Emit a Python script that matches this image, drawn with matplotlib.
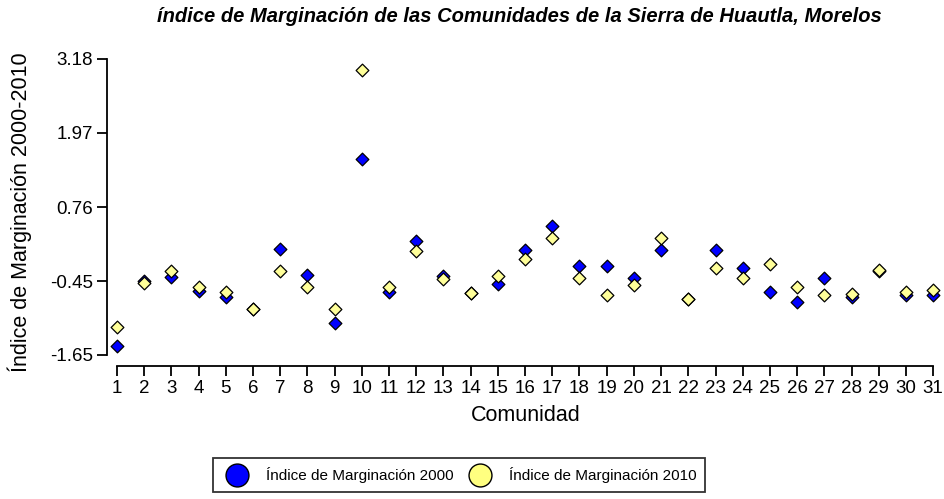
import numpy as np
import matplotlib
matplotlib.use("Agg")
import matplotlib.pyplot as plt
from matplotlib.lines import Line2D

plt.rcParams['font.family'] = ['Liberation Sans', 'DejaVu Sans']

comunidad = list(range(1, 32))
im_2000 = [-1.50, -0.45, -0.38, -0.60, -0.71, -0.90, 0.08, -0.34, -1.13, 1.55,
           -0.62, 0.20, -0.36, -0.64, -0.49, 0.06, 0.45, -0.20, -0.20, -0.39,
           0.06, -0.73, 0.06, -0.23, -0.62, -0.79, -0.39, -0.70, -0.28, -0.68,
           -0.68]
im_2010 = [-1.19, -0.47, -0.28, -0.54, -0.62, -0.90, -0.28, -0.54, -0.90, 2.99,
           -0.54, 0.05, -0.42, -0.64, -0.37, -0.09, 0.25, -0.40, -0.68, -0.51,
           0.25, -0.73, -0.23, -0.40, -0.16, -0.54, -0.68, -0.65, -0.26, -0.62,
           -0.59]
yticks = [-1.65, -0.45, 0.76, 1.97, 3.18]

fig = plt.figure(figsize=(9.45, 4.99), dpi=100)
ax = fig.add_axes([107/945, 1 - 366/499, (944 - 107)/945, (366 - 58)/499])

ax.scatter(comunidad, im_2000, marker='D', s=42, c='#0000FF', edgecolors='black',
           linewidths=0.9, zorder=3)
ax.scatter(comunidad, im_2010, marker='D', s=42, c='#FFFF99', edgecolors='black',
           linewidths=0.9, zorder=4)

ax.set_xlim(0.63, 31.4)
ax.set_ylim(-1.83, 3.19)
ax.spines['top'].set_visible(False)
ax.spines['right'].set_visible(False)
ax.spines['left'].set_bounds(-1.65, 3.18)
ax.spines['bottom'].set_bounds(1, 31)
ax.spines['left'].set_linewidth(1.3)
ax.spines['bottom'].set_linewidth(1.3)
ax.set_xticks(comunidad)
ax.set_yticks(yticks)
ax.set_yticklabels([f"{v:.2f}" for v in yticks])
ax.tick_params(axis='both', length=7, width=1.3, labelsize=13.5, pad=3)

ax.set_xlabel("Comunidad", fontsize=15.5, labelpad=6)
ax.set_ylabel("Índice de Marginación 2000-2010", fontsize=15.5)
ax.yaxis.set_label_coords(-75/837, 0.5)

fig.text(157/945, 1 - 16/499, "índice de Marginación de las Comunidades de la Sierra de Huautla, Morelos",
         ha='left', va='center', fontsize=14.5, fontweight='bold', fontstyle='italic')

handles = [Line2D([], [], marker='o', linestyle='none', markersize=16.5,
                  markerfacecolor='#0000FF', markeredgecolor='black'),
           Line2D([], [], marker='o', linestyle='none', markersize=16.5,
                  markerfacecolor='#FFFF80', markeredgecolor='black')]
leg = fig.legend(handles, ["Índice de Marginación 2000", "Índice de Marginación 2010"],
                 loc='center', bbox_to_anchor=(459/945, 1 - 475/499), ncol=2,
                 fontsize=11, frameon=True, fancybox=False, edgecolor='black',
                 borderpad=0.6, handletextpad=0.9, columnspacing=0.7)
leg.get_frame().set_linewidth(1.3)

fig.savefig("out.png", dpi=100)
